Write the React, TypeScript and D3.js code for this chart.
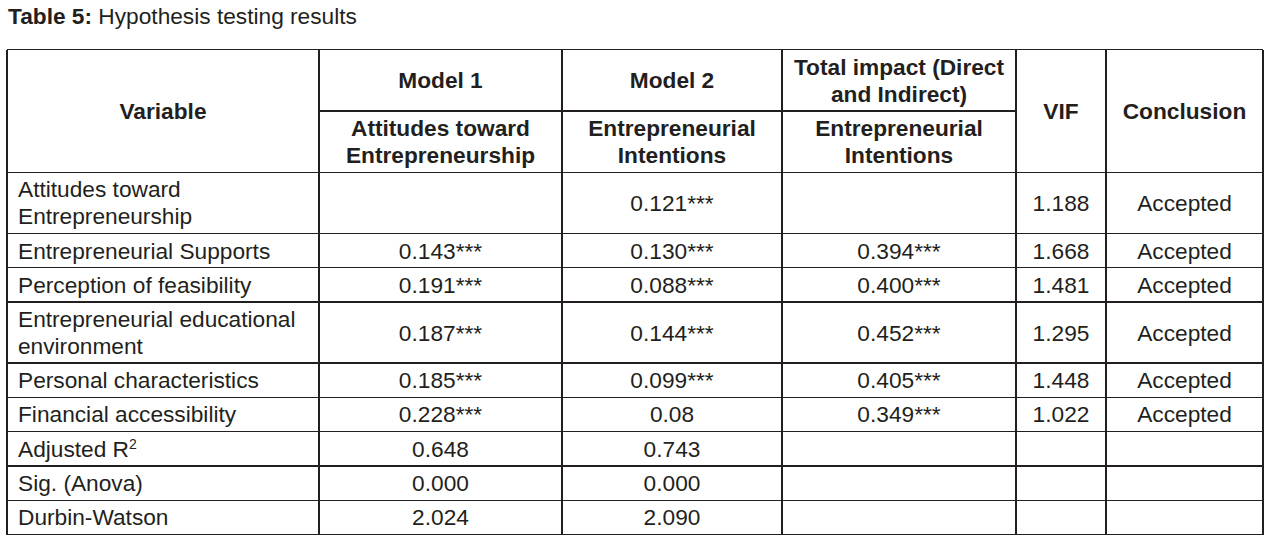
import React from "react";
import * as d3 from "d3";

const title = { bold: "Table 5:", rest: " Hypothesis testing results" };

const headerTop = ["Variable", "Model 1", "Model 2", "Total impact (Direct|and Indirect)", "VIF", "Conclusion"];
const headerSub = ["Attitudes toward|Entrepreneurship", "Entrepreneurial|Intentions", "Entrepreneurial|Intentions"];

const variables = [
  "Attitudes toward|Entrepreneurship",
  "Entrepreneurial Supports",
  "Perception of feasibility",
  "Entrepreneurial educational|environment",
  "Personal characteristics",
  "Financial accessibility",
  "Adjusted R^2",
  "Sig. (Anova)",
  "Durbin-Watson",
];
const model1 = ["", "0.143***", "0.191***", "0.187***", "0.185***", "0.228***", "0.648", "0.000", "2.024"];
const model2 = ["0.121***", "0.130***", "0.088***", "0.144***", "0.099***", "0.08", "0.743", "0.000", "2.090"];
const totalImpact = ["", "0.394***", "0.400***", "0.452***", "0.405***", "0.349***", "", "", ""];
const vif = ["1.188", "1.668", "1.481", "1.295", "1.448", "1.022", "", "", ""];
const conclusion = ["Accepted", "Accepted", "Accepted", "Accepted", "Accepted", "Accepted", "", "", ""];

const W = 1268;
const H = 541;
const FS = 22.7;
const LH = 27;
const INK = "#231f20";
const FONT = "'Liberation Sans', Arial, Helvetica, sans-serif";

const colEdges = [7, 319, 562, 782, 1016, 1106, 1263];
const headTop = 49.5;
const headMid = 111;
const headBottom = 172.5;
const singleH = 34.3;
const doubleH = 61;

function renderLabel(text: string, x: number, cy: number, anchor: string, bold = false, key?: string) {
  const lines = text.split("|");
  const off = FS * 0.35;
  const y0 = cy + off - ((lines.length - 1) * LH) / 2;
  return (
    <text
      key={key}
      x={x}
      y={y0}
      textAnchor={anchor}
      fontFamily={FONT}
      fontSize={FS}
      fontWeight={bold ? "bold" : "normal"}
      fill={INK}
    >
      {lines.map((ln, i) => {
        const sup = ln.split("^");
        return (
          <tspan key={i} x={x} dy={i === 0 ? 0 : LH}>
            {sup[0]}
            {sup.length > 1 ? (
              <tspan fontSize={14} dy={-8}>
                {sup[1]}
              </tspan>
            ) : null}
          </tspan>
        );
      })}
    </text>
  );
}

export default function App() {
  const heights = variables.map((v) => (v.includes("|") ? doubleH : singleH));
  const rowTops: number[] = [];
  let acc = headBottom;
  heights.forEach((h) => {
    rowTops.push(acc);
    acc += h;
  });
  const tableBottom = acc;
  const rowIdx = d3.range(variables.length);
  const colCenter = (i: number) => (colEdges[i] + colEdges[i + 1]) / 2;

  const cols = [model1, model2, totalImpact, vif, conclusion];

  const lineProps = { stroke: INK, strokeWidth: 1.3, shapeRendering: "crispEdges" as const };

  return (
    <svg
      width={W}
      height={H}
      style={{ position: "absolute", left: 0, top: 0, background: "#fff" }}
      xmlns="http://www.w3.org/2000/svg"
    >
      <rect width={W} height={H} fill="#fff" />
      <text x={8} y={24} fontFamily={FONT} fontSize={FS} fill={INK}>
        <tspan fontWeight="bold">{title.bold}</tspan>
        <tspan>{title.rest}</tspan>
      </text>

      {/* horizontal lines */}
      <line x1={colEdges[0]} x2={colEdges[6]} y1={headTop} y2={headTop} {...lineProps} />
      <line x1={colEdges[1]} x2={colEdges[4]} y1={headMid} y2={headMid} {...lineProps} />
      <line x1={colEdges[0]} x2={colEdges[6]} y1={headBottom} y2={headBottom} {...lineProps} />
      {rowIdx.map((i) => (
        <line
          key={"h" + i}
          x1={colEdges[0]}
          x2={colEdges[6]}
          y1={rowTops[i] + heights[i]}
          y2={rowTops[i] + heights[i]}
          {...lineProps}
        />
      ))}
      {/* vertical lines */}
      {colEdges.map((x, i) => (
        <line key={"v" + i} x1={x} x2={x} y1={headTop} y2={tableBottom} {...lineProps} />
      ))}

      {/* header */}
      {renderLabel(headerTop[0], colCenter(0), (headTop + headBottom) / 2, "middle", true, "ht0")}
      {[1, 2, 3].map((c) =>
        renderLabel(headerTop[c], colCenter(c), (headTop + headMid) / 2, "middle", true, "ht" + c)
      )}
      {[1, 2, 3].map((c) =>
        renderLabel(headerSub[c - 1], colCenter(c), (headMid + headBottom) / 2, "middle", true, "hs" + c)
      )}
      {renderLabel(headerTop[4], colCenter(4), (headTop + headBottom) / 2, "middle", true, "ht4")}
      {renderLabel(headerTop[5], colCenter(5), (headTop + headBottom) / 2, "middle", true, "ht5")}

      {/* body */}
      {rowIdx.map((r) => {
        const cy = rowTops[r] + heights[r] / 2;
        return (
          <g key={"r" + r}>
            {renderLabel(variables[r], colEdges[0] + 11, cy, "start", false, "v")}
            {cols.map((col, c) =>
              col[r] ? renderLabel(col[r], colCenter(c + 1), cy, "middle", false, "c" + c) : null
            )}
          </g>
        );
      })}
    </svg>
  );
}
